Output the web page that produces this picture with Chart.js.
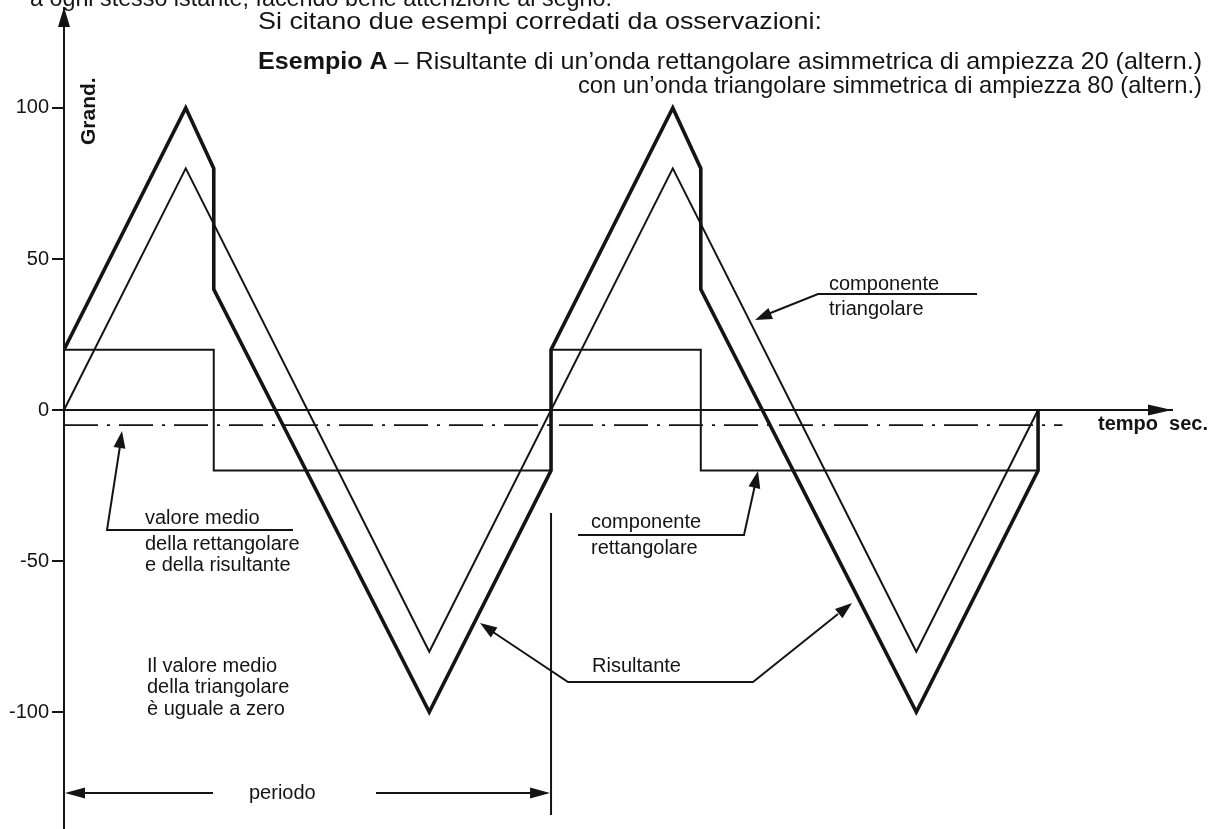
<!DOCTYPE html>
<html>
<head>
<meta charset="utf-8">
<script src="https://cdn.jsdelivr.net/npm/chart.js@4"></script>
<style>
  html, body { margin: 0; background: #fff; }
  #wrap { width: 1214px; height: 829px; position: relative; }
</style>
</head>
<body>
<div id="wrap"><canvas id="onde"></canvas></div>
<script>
// tempo in quarti di periodo, valori in "Grand."
const tTriangolare = [0, 1, 3, 5, 7, 8];
const vTriangolare = [0, 80, -80, 80, -80, 0];

const tRettangolare = [0, 1.23, 1.23, 4, 4, 5.23, 5.23, 8];
const vRettangolare = [20, 20, -20, -20, 20, 20, -20, -20];

const tRisultante = [0, 1, 1.23, 1.23, 3, 4, 4, 5, 5.23, 5.23, 7, 8, 8];
const vRisultante = [20, 100, 80, 40, -100, -20, 20, 100, 80, 40, -100, -20, 0];

const tValoreMedio = [0, 8.2];
const vValoreMedio = [-5, -5];

const yTicks = [100, 50, 0, -50, -100];
const periodoFine = 4;

const INK = '#141414';
const FONT = '"Liberation Sans", Arial, sans-serif';

function punti(ts, vs) {
  return ts.map((t, i) => ({ x: t, y: vs[i] }));
}

// filled arrow head at (x1, y1), pointing away from (x0, y0)
function freccia(ctx, x0, y0, x1, y1, len, half) {
  const a = Math.atan2(y1 - y0, x1 - x0);
  const bx = x1 - Math.cos(a) * len, by = y1 - Math.sin(a) * len;
  ctx.beginPath();
  ctx.moveTo(x1, y1);
  ctx.lineTo(bx + Math.sin(a) * half, by - Math.cos(a) * half);
  ctx.lineTo(bx - Math.sin(a) * half, by + Math.cos(a) * half);
  ctx.closePath();
  ctx.fill();
}

function linea(ctx, pts, w) {
  ctx.lineWidth = w;
  ctx.beginPath();
  ctx.moveTo(pts[0][0], pts[0][1]);
  for (let i = 1; i < pts.length; i++) ctx.lineTo(pts[i][0], pts[i][1]);
  ctx.stroke();
}

function testo(ctx, str, x, y, size, bold) {
  ctx.font = (bold ? 'bold ' : '') + size + 'px ' + FONT;
  ctx.fillText(str, x, y);
}

// text stretched horizontally to a given width
function testoLargo(ctx, parti, x, y, width, size) {
  let tot = 0;
  parti.forEach(p => {
    ctx.font = (p.bold ? 'bold ' : '') + size + 'px ' + FONT;
    p.w = ctx.measureText(p.t).width;
    tot += p.w;
  });
  ctx.save();
  ctx.translate(x, y);
  ctx.scale(width / tot, 1);
  let cx = 0;
  parti.forEach(p => {
    ctx.font = (p.bold ? 'bold ' : '') + size + 'px ' + FONT;
    ctx.fillText(p.t, cx, 0);
    cx += p.w;
  });
  ctx.restore();
}

const annotazioni = {
  id: 'annotazioni',
  afterDraw(chart) {
    const ctx = chart.ctx;
    const xs = chart.scales.x, ys = chart.scales.y;
    const area = chart.chartArea;
    const y0 = ys.getPixelForValue(0);
    ctx.save();
    ctx.fillStyle = INK;
    ctx.strokeStyle = INK;
    ctx.textBaseline = 'alphabetic';
    ctx.textAlign = 'left';

    // arrows of the axes
    freccia(ctx, area.left, y0, area.right, y0, 24, 5.5);
    freccia(ctx, area.left, area.bottom, area.left, area.top - 1, 20, 6);

    // text of the page
    testoLargo(ctx, [{ t: 'a ogni stesso istante, facendo bene attenzione al segno.' }], 30, 6, 582, 24);
    testoLargo(ctx, [{ t: 'Si citano due esempi corredati da osservazioni:' }], 258, 29, 564, 24);
    testoLargo(ctx, [
      { t: 'Esempio A', bold: true },
      { t: ' \u2013 Risultante di un\u2019onda rettangolare asimmetrica di ampiezza 20 (altern.)' }
    ], 258, 69, 944, 24);
    testoLargo(ctx, [{ t: 'con un\u2019onda triangolare simmetrica di ampiezza 80 (altern.)' }], 578, 93, 624, 24);

    // axis names
    ctx.save();
    ctx.translate(95, 145);
    ctx.rotate(-Math.PI / 2);
    testo(ctx, 'Grand.', 0, 0, 21, true);
    ctx.restore();
    testo(ctx, 'tempo  sec.', 1098, 430, 20, true);

    // componente triangolare
    testo(ctx, 'componente', 829, 290, 20);
    testo(ctx, 'triangolare', 829, 315, 20);
    linea(ctx, [[977, 294], [818, 294], [768, 314]], 2);
    freccia(ctx, 818, 294, 755, 320, 17, 6);

    // componente rettangolare
    testo(ctx, 'componente', 591, 528, 20);
    testo(ctx, 'rettangolare', 591, 554, 20);
    linea(ctx, [[578, 535], [744, 535], [755, 485]], 2);
    freccia(ctx, 744, 535, 758, 471, 17, 6);

    // risultante
    testo(ctx, 'Risultante', 592, 672, 20);
    linea(ctx, [[493, 632], [568, 682], [753, 682], [838, 614]], 2);
    freccia(ctx, 568, 682, 480, 623, 17, 6);
    freccia(ctx, 753, 682, 852, 603, 17, 6);

    // valore medio
    testo(ctx, 'valore medio', 145, 524, 20);
    testo(ctx, 'della rettangolare', 145, 550, 20);
    testo(ctx, 'e della risultante', 145, 571, 20);
    linea(ctx, [[293, 530], [107, 530], [120, 446]], 2);
    freccia(ctx, 107, 530, 122, 431, 17, 6);

    testo(ctx, 'Il valore medio', 147, 672, 20);
    testo(ctx, 'della triangolare', 147, 693, 20);
    testo(ctx, '\u00e8 uguale a zero', 147, 715, 20);

    // periodo
    const xp = xs.getPixelForValue(periodoFine);
    linea(ctx, [[xp, 513], [xp, 815]], 2);
    linea(ctx, [[area.left + 10, 793], [213, 793]], 2);
    linea(ctx, [[376, 793], [xp - 10, 793]], 2);
    freccia(ctx, 213, 793, area.left + 1, 793, 20, 5.5);
    freccia(ctx, 376, 793, xp - 1, 793, 20, 5.5);
    testo(ctx, 'periodo', 249, 799, 20);

    ctx.restore();
  }
};

const ctx = document.getElementById('onde').getContext('2d');

new Chart(ctx, {
  type: 'line',
  data: {
    datasets: [
      {
        label: 'componente triangolare',
        data: punti(tTriangolare, vTriangolare),
        borderColor: INK,
        borderWidth: 2
      },
      {
        label: 'componente rettangolare',
        data: punti(tRettangolare, vRettangolare),
        borderColor: INK,
        borderWidth: 2
      },
      {
        label: 'valore medio',
        data: punti(tValoreMedio, vValoreMedio),
        borderColor: INK,
        borderWidth: 1.6,
        borderDash: [34, 9, 3, 9]
      },
      {
        label: 'Risultante',
        data: punti(tRisultante, vRisultante),
        borderColor: INK,
        borderWidth: 3.6
      }
    ]
  },
  options: {
    responsive: true,
    maintainAspectRatio: false,
    animation: false,
    layout: { padding: { top: 8, right: 42, bottom: 0, left: 0 } },
    elements: {
      point: { radius: 0 },
      line: { tension: 0, fill: false }
    },
    plugins: {
      legend: { display: false },
      tooltip: { enabled: false }
    },
    scales: {
      x: {
        type: 'linear',
        min: 0,
        max: 9.1,
        position: { y: 0 },
        ticks: { display: false },
        grid: { display: false },
        border: { display: true, color: INK, width: 2 }
      },
      y: {
        type: 'linear',
        position: 'left',
        min: -138.7,
        max: 133.1,
        afterBuildTicks: s => { s.ticks = yTicks.map(v => ({ value: v })); },
        afterFit: s => { s.width = 64; s.paddingTop = 0; s.paddingBottom = 0; },
        ticks: {
          color: INK,
          padding: 3,
          font: { family: FONT, size: 20 },
          callback: v => String(v)
        },
        grid: {
          display: true,
          drawOnChartArea: false,
          drawTicks: true,
          tickLength: 12,
          color: INK,
          lineWidth: 2
        },
        border: { display: true, color: INK, width: 2 }
      }
    }
  },
  plugins: [annotazioni]
});
</script>
</body>
</html>
